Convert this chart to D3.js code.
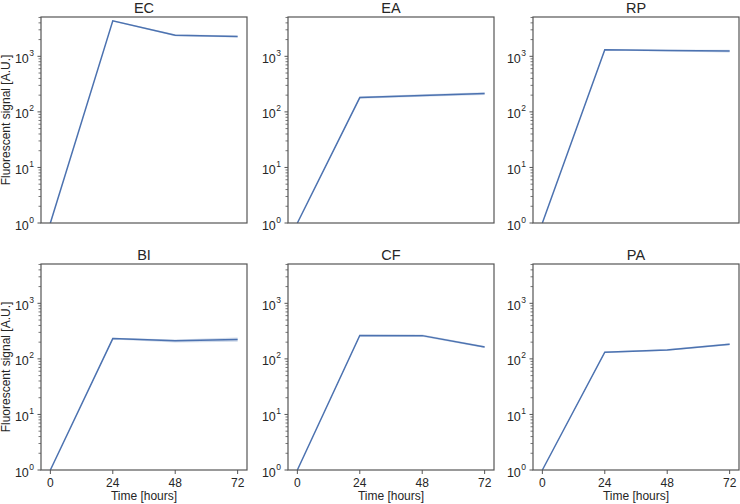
<!DOCTYPE html>
<html>
<head>
<meta charset="utf-8">
<script src="https://cdn.jsdelivr.net/npm/d3@7"></script>
<style>
  body { margin: 0; background: #fff; }
  text { font-family: "Liberation Sans", Arial, sans-serif; fill: #262626; }
</style>
</head>
<body>
<div id="chart"></div>
<script>
// chart data
const strains = ["EC", "EA", "RP", "BI", "CF", "PA"];
const hours = [0, 24, 48, 72];
const meanSignal = [
  [1, 4350, 2400, 2275],
  [1, 181, 198, 214],
  [1, 1310, 1270, 1240],
  [1, 232, 211, 223],
  [1, 263, 262, 164],
  [1, 132, 145, 184]
];
const lowSignal = [
  [1, 4250, 2300, 2180],
  [1, 172, 188, 202],
  [1, 1270, 1225, 1170],
  [1, 224, 198, 203],
  [1, 255, 250, 157],
  [1, 128, 140, 176]
];
const highSignal = [
  [1, 4450, 2500, 2370],
  [1, 190, 208, 226],
  [1, 1350, 1315, 1310],
  [1, 240, 224, 243],
  [1, 271, 274, 171],
  [1, 136, 150, 192]
];
const xTicks = [0, 24, 48, 72];
const yTicks = [1, 10, 100, 1000];

const width = 740, height = 504;
const colLeft = [41, 288, 533];
const rowTop = [17, 264];
const panelW = 206, panelH = 206;
const lineColor = "#4c72b0";
const spineColor = "#555";

let svg = d3.select("#chart")
  .append("svg")
    .attr("width", width)
    .attr("height", height);

let xScale = d3.scaleLinear()
  .domain([-3.6, 75.6])
  .range([0, panelW]);

let yScale = d3.scaleLog()
  .domain([1, 5100])
  .range([panelH, 0]);

let minorTicks = [];
for (let dec = 1; dec <= 1000; dec *= 10) {
  for (let m = 2; m <= 9; m++) {
    if (dec * m < 5100) minorTicks.push(dec * m);
  }
}

strains.forEach((name, i) => {
  let row = Math.floor(i / 3), col = i % 3;
  let g = svg.append("g")
    .attr("transform", `translate(${colLeft[col]}, ${rowTop[row]})`);

  let series = hours.map((h, k) => ({
    h: h, m: meanSignal[i][k], lo: lowSignal[i][k], hi: highSignal[i][k]
  }));

  // confidence band
  g.append("path")
    .datum(series)
    .attr("fill", lineColor)
    .attr("fill-opacity", 0.25)
    .attr("d", d3.area()
      .x(d => xScale(d.h))
      .y0(d => yScale(d.lo))
      .y1(d => yScale(d.hi)));

  g.append("path")
    .datum(series)
    .attr("fill", "none")
    .attr("stroke", lineColor)
    .attr("stroke-width", 1.5)
    .attr("d", d3.line()
      .x(d => xScale(d.h))
      .y(d => yScale(d.m)));

  // frame
  g.append("rect")
    .attr("width", panelW)
    .attr("height", panelH)
    .attr("fill", "none")
    .attr("stroke", spineColor)
    .attr("stroke-width", 1.2);

  // y minor ticks
  g.selectAll(".minor")
    .data(minorTicks)
    .enter()
    .append("line")
      .attr("x1", 0).attr("x2", -2.5)
      .attr("y1", d => yScale(d)).attr("y2", d => yScale(d))
      .attr("stroke", spineColor)
      .attr("stroke-width", 0.8);

  // y major ticks and labels
  let yt = g.selectAll(".ymaj")
    .data(yTicks)
    .enter()
    .append("g")
      .attr("transform", d => `translate(0, ${yScale(d)})`);
  yt.append("line")
    .attr("x1", 0).attr("x2", -3.5)
    .attr("stroke", spineColor)
    .attr("stroke-width", 1);
  yt.append("text")
    .attr("x", -12.2)
    .attr("y", 6.5)
    .attr("text-anchor", "end")
    .attr("font-size", "12.5px")
    .text("10");
  yt.append("text")
    .attr("x", -11.8)
    .attr("y", -0.5)
    .attr("font-size", "8.5px")
    .text(d => Math.round(Math.log10(d)));

  // title
  g.append("text")
    .attr("x", panelW / 2)
    .attr("y", -4)
    .attr("text-anchor", "middle")
    .attr("font-size", "14.5px")
    .text(name);

  if (row === 1) {
    let xt = g.selectAll(".xmaj")
      .data(xTicks)
      .enter()
      .append("g")
        .attr("transform", d => `translate(${xScale(d)}, ${panelH})`);
    xt.append("line")
      .attr("y1", 0).attr("y2", 4)
      .attr("stroke", spineColor)
      .attr("stroke-width", 1);
    xt.append("text")
      .attr("y", 16.7)
      .attr("text-anchor", "middle")
      .attr("font-size", "12px")
      .text(d => d);
    g.append("text")
      .attr("x", panelW / 2)
      .attr("y", panelH + 30)
      .attr("text-anchor", "middle")
      .attr("font-size", "12px")
      .text("Time [hours]");
  }

  if (col === 0) {
    g.append("text")
      .attr("transform", `translate(-31, ${panelH / 2}) rotate(-90)`)
      .attr("text-anchor", "middle")
      .attr("font-size", "12px")
      .text("Fluorescent signal [A.U.]");
  }
});
</script>
</body>
</html>
